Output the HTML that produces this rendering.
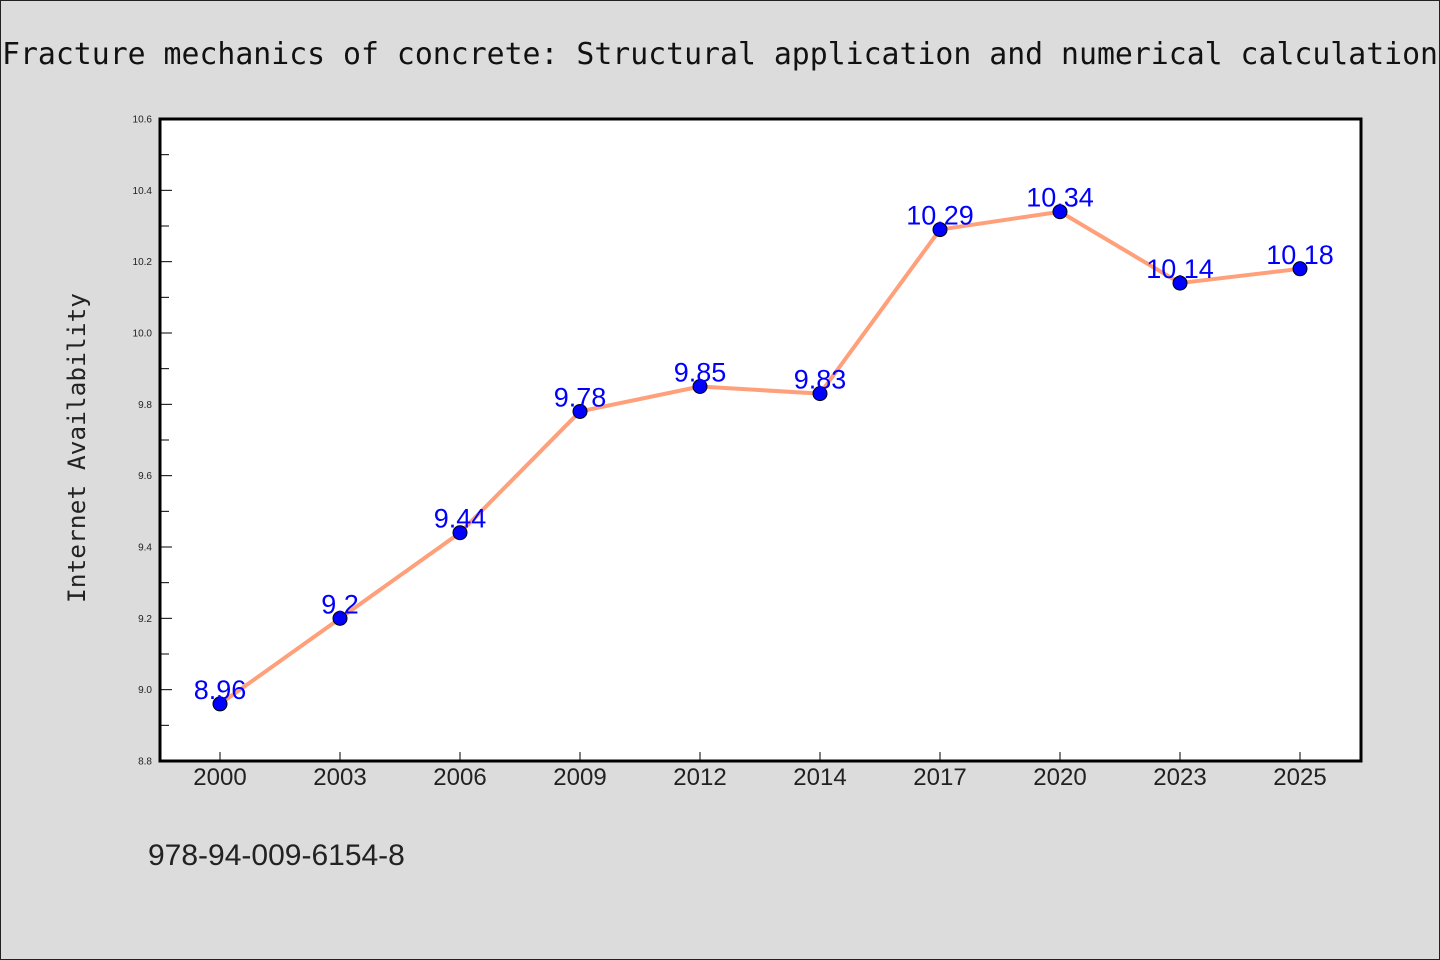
<!DOCTYPE html>
<html><head><meta charset="utf-8"><style>
body{margin:0;background:#dcdcdc;}
svg{display:block;}
</style></head><body>
<svg width="1440" height="960" xmlns="http://www.w3.org/2000/svg" font-family="'Liberation Sans','WenQuanYi Zen Hei',sans-serif">
<rect x="0.5" y="0.5" width="1439" height="959" fill="#dcdcdc" stroke="#222" stroke-width="1"/>
<text x="720" y="64" text-anchor="middle" font-family="'WenQuanYi Zen Hei Mono','DejaVu Sans Mono','Liberation Mono',monospace" font-size="30" fill="#111" textLength="1436" lengthAdjust="spacingAndGlyphs">Fracture mechanics of concrete: Structural application and numerical calculation</text>
<rect x="160" y="119" width="1201" height="642" fill="#fff"/>
<g id="axes"></g>
<g id="series"></g>
<rect x="160" y="119" width="1201" height="642" fill="none" stroke="#000" stroke-width="3"/>
<text transform="translate(85,448) rotate(-90)" text-anchor="middle" font-family="'WenQuanYi Zen Hei Mono','DejaVu Sans Mono','Liberation Mono',monospace" font-size="24" fill="#222" textLength="310" lengthAdjust="spacingAndGlyphs">Internet Availability</text>
<text x="148" y="865" font-size="30" fill="#222">978-94-009-6154-8</text>
</svg>
<script>
const categories = ["2000","2003","2006","2009","2012","2014","2017","2020","2023","2025"];
const values = [8.96,9.2,9.44,9.78,9.85,9.83,10.29,10.34,10.14,10.18];
const yTicks = [8.8,9.0,9.2,9.4,9.6,9.8,10.0,10.2,10.4,10.6];
const yLabels = ["8.8","9.0","9.2","9.4","9.6","9.8","10.0","10.2","10.4","10.6"];
const NS="http://www.w3.org/2000/svg";
const x0=160,x1=1360,yTop=119,yBot=761,yMin=8.8,yMax=10.6;
const xs=i=>x0+(x1-x0)/categories.length*(i+0.5);
const ys=v=>yBot-(v-yMin)/(yMax-yMin)*(yBot-yTop);
function mk(t,a,p){const e=document.createElementNS(NS,t);for(const k in a)e.setAttribute(k,a[k]);p.appendChild(e);return e;}
const axes=document.getElementById('axes'),ser=document.getElementById('series');
yTicks.forEach((v,i)=>{
  const y=ys(v);
  const t=mk('line',{x1:160,x2:172,y1:y,y2:y,stroke:'#000','stroke-width':1},axes);
  
  
  const l=mk('text',{x:152,y:y+3.5,'text-anchor':'end','font-size':10,fill:'#222'},axes);
  
  
  l.textContent=yLabels[i];
  if(i<yTicks.length-1){
    const ym=ys(v+(yTicks[i+1]-v)/2);
    const m=mk('line',{x1:160,x2:169,y1:ym,y2:ym,stroke:'#000','stroke-width':1},axes);
    
    
  }
});
categories.forEach((c,i)=>{
  const x=xs(i);
  const t=mk('line',{x1:x,x2:x,y1:761,y2:752,stroke:'#000','stroke-width':1},axes);
  
  
  const l=mk('text',{x:x,y:785,'text-anchor':'middle','font-size':24,fill:'#222'},axes);
  
  
  l.textContent=c;
});
const pl=mk('polyline',{points:values.map((v,i)=>xs(i)+','+ys(v)).join(' '),fill:'none',stroke:'#ffa07a','stroke-width':4,'stroke-linejoin':'round'},ser);


values.forEach((v,i)=>{
  const c=mk('circle',{cx:xs(i),cy:ys(v),r:7,fill:'#0000ff',stroke:'#000','stroke-width':1},ser);
  
  
});
values.forEach((v,i)=>{
  const t=mk('text',{x:xs(i),y:ys(v)-5,'text-anchor':'middle','font-size':27,fill:'#0000ff'},ser);
  
  
  t.textContent=String(v);
});
</script>
</body></html>
